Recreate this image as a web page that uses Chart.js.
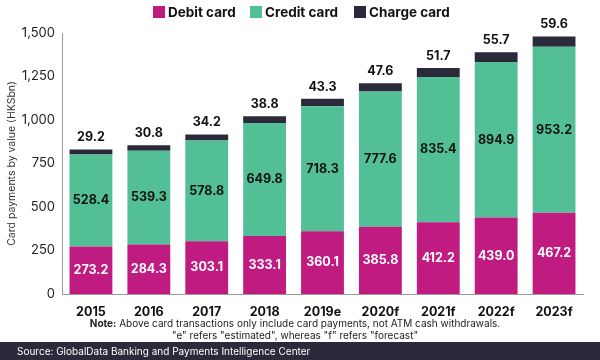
<!DOCTYPE html>
<html>
<head>
<meta charset="utf-8">
<script src="https://cdn.jsdelivr.net/npm/chart.js@4.4.1/dist/chart.umd.min.js"></script>
<style>
  html, body { margin: 0; padding: 0; background: #fff; }
  body { width: 600px; height: 360px; position: relative; overflow: hidden; font-family: Inter, "Open Sans", sans-serif; }
  #wrap { position: absolute; left: 0; top: 0; width: 600px; height: 331px; }
  .leg { position: absolute; top: 4px; height: 16px; line-height: 16px; font-size: 13.5px; font-weight: bold; color: #111; white-space: nowrap; }
  .leg i { display: inline-block; width: 12px; height: 12px; vertical-align: -1px; margin-right: 3px; }
  .note { position: absolute; left: 0; width: 590px; text-align: center; font-size: 10px; color: #222; line-height: 12px; }
  #source { position: absolute; left: 0; top: 342px; width: 600px; height: 18px; background: #2b2a3a; color: #fff; font-size: 10px; line-height: 19px; padding-left: 17px; box-sizing: border-box; }
</style>
</head>
<body>
<div id="wrap"><canvas id="cards" width="600" height="331"></canvas></div>
<div class="leg" style="left:153px"><i style="background:#c01b80"></i>Debit card</div>
<div class="leg" style="left:250px"><i style="background:#52bf97"></i>Credit card</div>
<div class="leg" style="left:354px"><i style="background:#2b2a3a"></i>Charge card</div>
<div class="note" style="top:317px"><b>Note:</b> Above card transactions only include card payments, not ATM cash withdrawals.</div>
<div class="note" style="top:329px">"e" refers "estimated", whereas "f" refers "forecast"</div>
<div id="source">Source: GlobalData Banking and Payments Intelligence Center</div>
<script>
var years = ['2015', '2016', '2017', '2018', '2019e', '2020f', '2021f', '2022f', '2023f'];
var debit = [273.2, 284.3, 303.1, 333.1, 360.1, 385.8, 412.2, 439.0, 467.2];
var credit = [528.4, 539.3, 578.8, 649.8, 718.3, 777.6, 835.4, 894.9, 953.2];
var charge = [29.2, 30.8, 34.2, 38.8, 43.3, 47.6, 51.7, 55.7, 59.6];

Chart.defaults.font.family = 'Inter, "Open Sans", sans-serif';
Chart.defaults.color = '#222';

// draws the value labels, no datalabels plugin offline
var valueLabels = {
  id: 'valueLabels',
  afterDatasetsDraw: function(chart) {
    var ctx = chart.ctx;
    ctx.save();
    ctx.font = 'bold 12.5px Inter, "Open Sans", sans-serif';
    ctx.textAlign = 'center';
    ctx.textBaseline = 'middle';
    chart.data.datasets.forEach(function(ds, i) {
      var meta = chart.getDatasetMeta(i);
      meta.data.forEach(function(bar, j) {
        var txt = ds.data[j].toFixed(1);
        if (i == 0) {
          ctx.fillStyle = '#fff';
          ctx.fillText(txt, bar.x, (bar.y + bar.base) / 2);
        } else if (i == 1) {
          ctx.fillStyle = '#111';
          ctx.fillText(txt, bar.x, (bar.y + bar.base) / 2);
        } else {
          ctx.fillStyle = '#111';
          ctx.fillText(txt, bar.x, bar.y - 12);
        }
      });
    });
    ctx.restore();
  }
};

var ctx1 = document.getElementById('cards');
var myChart = new Chart(ctx1, {
  type: 'bar',
  data: {
    labels: years,
    datasets: [
      { label: 'Debit card', data: debit, backgroundColor: '#c01b80' },
      { label: 'Credit card', data: credit, backgroundColor: '#52bf97' },
      { label: 'Charge card', data: charge, backgroundColor: '#2b2a3a' }
    ]
  },
  options: {
    responsive: false,
    animation: false,
    devicePixelRatio: 1,
    categoryPercentage: 1,
    barPercentage: 0.74,
    layout: { padding: { left: 0, right: 17, top: 33, bottom: 0 } },
    plugins: {
      legend: { display: false },
      tooltip: { enabled: false }
    },
    scales: {
      x: {
        stacked: true,
        grid: { display: false, drawTicks: false },
        border: { display: true, color: '#999', width: 1 },
        ticks: { padding: 11, color: '#111', font: { size: 12.5, weight: 'bold' } }
      },
      y: {
        stacked: true,
        min: 0,
        max: 1500,
        afterFit: function(scale) { scale.width = 62; },
        grid: { display: false, drawTicks: false },
        border: { display: true, color: '#999', width: 1 },
        ticks: { stepSize: 250, padding: 7, color: '#222', font: { size: 13 } },
        title: { display: true, text: 'Card payments by value (HKSbn)', color: '#333', font: { size: 10.5 }, padding: { top: 6, bottom: 0 } }
      }
    }
  },
  plugins: [valueLabels]
});
</script>
</body>
</html>
